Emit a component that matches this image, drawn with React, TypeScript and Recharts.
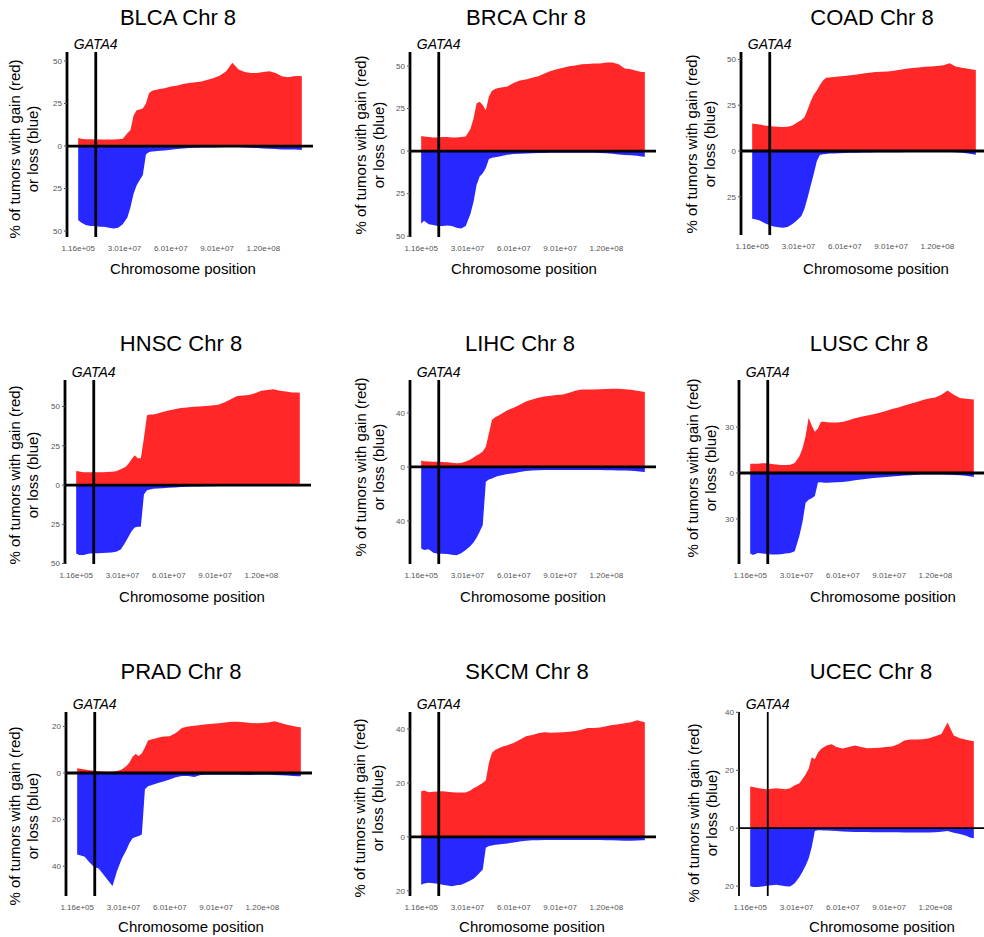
import React from 'react';
import { ComposedChart, Area, XAxis, YAxis, ReferenceLine } from 'recharts';

// positions along chromosome 8, in Mb, shared by every panel
const positions = [
  0.116, 2, 5, 8, 11, 14, 17, 20, 23, 26, 29, 32, 34, 36, 38, 40, 42, 44, 46, 48,
  50, 53, 56, 60, 64, 68, 72, 76, 80, 84, 88, 92, 96, 100, 104, 108, 112, 116, 120,
  124, 128, 132, 136, 140, 143, 145,
];

const xTicks = [0.116, 30.116, 60.116, 90.116, 120.116];
const xTickLabels = ['1.16e+05', '3.01e+07', '6.01e+07', '9.01e+07', '1.20e+08'];
const gata4Pos = 11.5;

// % of tumors with gain / loss at each position
const blcaGain = [4.7, 4.3, 4, 4, 3.8, 3.8, 3.8, 3.8, 3.9, 4, 4.3, 7.5, 9.5, 18, 21, 21.5, 22, 25, 31, 32.5, 33, 33.5, 34, 35, 35.5, 36.5, 37, 37.5, 38, 39, 40, 41.5, 44, 49, 45, 43.5, 43, 43, 43.5, 44, 43, 41, 40.5, 41, 41.2, 41];
const blcaLoss = [43.5, 45, 46.5, 47, 47, 47.5, 47.5, 48, 48.5, 48, 46, 42, 36, 28, 23, 20, 17, 5, 3.5, 3.2, 3, 2.8, 2.7, 2.2, 1.8, 1.4, 1.2, 1, 0.9, 0.9, 0.8, 0.7, 0.6, 0.4, 0.6, 0.8, 1, 1.2, 1.5, 1.6, 1.8, 2, 2, 2.1, 2.2, 2.3];

const brcaGain = [8.8, 8.5, 8.3, 8, 8, 8.2, 8.3, 8, 8, 8.2, 8.5, 13, 19, 28, 29, 27, 24, 32, 35.5, 36.5, 37, 37.5, 38, 40, 41.5, 42, 43, 44, 45.5, 47, 48, 49, 49.8, 50.3, 51, 51.2, 51.5, 51.5, 52, 52, 51, 48.5, 48, 47, 46.5, 46.5];
const brcaLoss = [42.5, 41, 43, 43.5, 44, 44, 43.7, 44, 45, 45.5, 44, 37, 30, 20, 15, 13, 10, 4.7, 4, 3.7, 3.3, 2.8, 2.2, 1.8, 1.6, 1.4, 1.3, 1.2, 1.1, 1, 1, 1, 1, 1, 1, 1, 1, 1.1, 1.3, 1.6, 2, 2.3, 2.5, 2.8, 3.2, 3.3];

const coadGain = [15, 14.8, 14.5, 14, 13.6, 13.4, 13.2, 13.1, 13.3, 13.8, 15.5, 17, 18.5, 22.5, 27, 30.8, 33, 36, 38.5, 40, 40.2, 40.5, 40.7, 41, 41.4, 41.8, 42.3, 42.8, 43.2, 43.3, 43.5, 43.8, 44.4, 45, 45.3, 45.6, 46, 46.2, 46.5, 46.8, 48, 46.2, 45.5, 45, 44.5, 44.3];
const coadLoss = [37, 37.3, 38, 39.3, 40.5, 41.3, 41.7, 42, 41.5, 40, 38, 35.5, 31.5, 25.5, 19, 12.5, 5.5, 2.2, 1.8, 1.6, 1.4, 1.3, 1.2, 1.1, 1, 0.9, 0.8, 0.8, 0.7, 0.7, 0.7, 0.7, 0.7, 0.6, 0.6, 0.6, 0.6, 0.6, 0.6, 0.6, 0.6, 0.7, 1, 1.4, 1.8, 2];

const hnscGain = [9, 8.6, 8.2, 8.1, 8.1, 8.1, 8.2, 8.3, 8.5, 8.8, 10, 11.5, 13.5, 16.5, 19, 17, 17, 30, 44.5, 45, 45, 45.5, 46.5, 47.5, 48.3, 49, 49.4, 49.8, 50, 50.3, 50.7, 51.2, 52.5, 54.5, 56.5, 57, 57.3, 58.5, 60, 60.5, 61, 60, 59.5, 59, 59, 58.8];
const hnscLoss = [43.6, 44.5, 44.5, 43.8, 43.5, 43.4, 43.3, 43.2, 43, 42.5, 41, 36.5, 33, 29.5, 27, 26.5, 26.5, 6, 3.4, 2.8, 2.4, 2.2, 2, 1.8, 1.5, 1.3, 1.1, 1, 0.9, 0.8, 0.7, 0.6, 0.5, 0.4, 0.4, 0.4, 0.4, 0.4, 0.4, 0.4, 0.4, 0.4, 0.4, 0.4, 0.4, 0.4];

const lihcGain = [4.7, 4.3, 4, 3.9, 3.8, 3.7, 3.5, 3.1, 2.8, 3, 4, 5.5, 7, 8.5, 9.8, 11.4, 15, 25, 35, 36.8, 38, 40, 42, 43.8, 46, 48.5, 50, 51.2, 52.2, 52.8, 53.2, 53.6, 55, 56.5, 57.3, 57.3, 57.3, 57.5, 57.8, 58, 58, 57.6, 57.2, 56.5, 55.8, 55.5];
const lihcLoss = [60.5, 61.5, 61, 63.5, 64.3, 64.3, 64.4, 65, 65.5, 64, 61.5, 58.5, 56, 52.5, 48, 43, 11, 9.3, 8.5, 7.5, 6.8, 6, 5.3, 4.6, 3.8, 3.1, 2.6, 2.4, 2.2, 2.2, 2.2, 2.2, 2.2, 2.2, 2.2, 2.2, 2.2, 2.3, 2.4, 2.5, 2.6, 2.7, 2.8, 3.2, 3.6, 3.7];

const luscGain = [6.1, 6.1, 6.1, 6.3, 6.4, 5.8, 5.5, 5.3, 5.2, 5.4, 6.5, 11, 16, 24, 36, 31, 27, 29, 33.5, 33.5, 33.2, 33, 33, 33.3, 34.5, 35.8, 36.7, 37.5, 38.3, 39.3, 40.5, 41.7, 42.8, 44, 45.2, 46.3, 47.6, 48.7, 49.3, 51, 53.8, 51, 49, 48.5, 48.2, 48];
const luscLoss = [52.6, 53.5, 52.3, 52.5, 52.8, 53.2, 53.2, 53, 52.6, 52.3, 51, 41, 32, 19.5, 17.5, 16.5, 15, 6.2, 6, 6.3, 6.4, 6.2, 6, 5.9, 5.4, 4.8, 4.2, 3.8, 3.3, 2.9, 2.6, 2.3, 2, 1.7, 1.4, 1.2, 1, 0.9, 0.9, 1, 1.1, 1.3, 1.5, 1.8, 2.3, 2.6];

const pradGain = [2.1, 1.8, 1.5, 1.2, 1, 0.8, 0.7, 0.6, 0.7, 0.9, 1.5, 3, 4.5, 7, 8.2, 7.3, 8.5, 11, 14, 14.4, 14.7, 15.3, 15.7, 15.8, 17.2, 19.3, 20, 20.3, 20.6, 20.9, 21.2, 21.4, 21.7, 22, 22, 21.8, 21.5, 21.4, 21.5, 21.7, 22.2, 21.5, 20.7, 20.2, 19.8, 19.6];
const pradLoss = [35, 35.3, 36, 38.3, 40.4, 41, 43.5, 46, 48.5, 42, 36.8, 33, 30, 28, 27.5, 27, 26.4, 7, 5.7, 5.2, 4.8, 4.2, 3.6, 2.8, 1.8, 1.3, 1.3, 1.7, 0.8, 0.7, 0.7, 0.7, 0.7, 0.7, 0.7, 0.8, 0.8, 0.7, 0.7, 0.7, 0.8, 1, 1.1, 1.3, 1.4, 1.4];

const skcmGain = [16.9, 17.2, 16.6, 16.7, 16.8, 16.9, 16.7, 16.6, 16.5, 16.5, 16.5, 17.2, 18, 18.6, 19.3, 20, 21, 27.5, 31.2, 32.2, 32.8, 33.5, 34, 34.8, 36, 37.3, 37.8, 38.4, 38.8, 38.6, 38.7, 38.8, 39, 39.3, 39.7, 40.4, 40.4, 40.6, 41, 41.5, 41.8, 42.1, 42.5, 43.2, 42.8, 42.5];
const skcmLoss = [17.7, 17.3, 17, 17.2, 17.4, 17.7, 18, 18.3, 17.9, 17.7, 17, 16.2, 15.5, 14.5, 13.3, 12.1, 4, 3.4, 3.2, 2.9, 2.8, 2.6, 2.4, 2.1, 1.7, 1.4, 1.2, 1.2, 1.1, 1.1, 1.1, 1.1, 1.1, 1.1, 1.1, 1.1, 1.1, 1.1, 1.2, 1.2, 1.3, 1.4, 1.4, 1.3, 1.2, 1.2];

const ucecGain = [14.4, 14.2, 13.9, 13.6, 13.4, 13.6, 13.8, 13.6, 13.4, 13.8, 14.8, 15.5, 17, 18.5, 20.5, 24.5, 23.8, 26, 27.3, 28, 28.6, 29, 28, 27.5, 28, 28.5, 28, 27.6, 27.7, 27.8, 28, 28.2, 29, 30.3, 30.6, 30.6, 30.7, 31, 31.7, 32.5, 36.5, 32, 31, 30.5, 30.2, 30];
const ucecLoss = [20, 20.3, 20.3, 20.1, 19.9, 19.7, 19.5, 19.8, 20, 20.1, 19, 16.8, 15, 13, 10.5, 6.5, 1, 0.7, 0.7, 0.8, 0.8, 0.9, 1, 1.1, 1.2, 1.3, 1.3, 1.3, 1.4, 1.4, 1.4, 1.4, 1.4, 1.5, 1.5, 1.5, 1.5, 1.5, 1.4, 1.2, 1, 1.6, 2, 2.6, 3.3, 3.5];

type PanelDef = {
  name: string;
  gain: number[];
  loss: number[];
  yDomain: [number, number];
  yTicks: number[];
  axisX: number;
  top: number;
  bottom: number;
  title: [number, number];
  yLab: [number, number];
  xLab: [number, number];
  lw: number;
};

const panels: PanelDef[] = [
  { name: 'BLCA', gain: blcaGain, loss: blcaLoss, yDomain: [-53.5, 55.3], yTicks: [-50, -25, 0, 25, 50], axisX: 67, top: 52, bottom: 237, title: [178, 18], yLab: [24, 149], xLab: [183, 268], lw: 2.8 },
  { name: 'BRCA', gain: brcaGain, loss: brcaLoss, yDomain: [-50.5, 58.2], yTicks: [-50, -25, 0, 25, 50], axisX: 410, top: 52, bottom: 237, title: [526, 18], yLab: [370, 145], xLab: [524, 268], lw: 2.8 },
  { name: 'COAD', gain: coadGain, loss: coadLoss, yDomain: [-45.9, 54.1], yTicks: [-25, 0, 25, 50], axisX: 741, top: 52, bottom: 235, title: [872, 18], yLab: [701, 144], xLab: [876, 268], lw: 2.8 },
  { name: 'HNSC', gain: hnscGain, loss: hnscLoss, yDomain: [-50.3, 66.9], yTicks: [-50, -25, 0, 25, 50], axisX: 65, top: 380, bottom: 564, title: [181, 344], yLab: [24, 475], xLab: [192, 596], lw: 2.8 },
  { name: 'LIHC', gain: lihcGain, loss: lihcLoss, yDomain: [-71.9, 64.4], yTicks: [-40, 0, 40], axisX: 410, top: 380, bottom: 564, title: [520, 344], yLab: [370, 467], xLab: [533, 596], lw: 2.8 },
  { name: 'LUSC', gain: luscGain, loss: luscLoss, yDomain: [-59.4, 60.7], yTicks: [-30, 0, 30], axisX: 739, top: 380, bottom: 564, title: [869, 344], yLab: [702, 468], xLab: [883, 596], lw: 2.8 },
  { name: 'PRAD', gain: pradGain, loss: pradLoss, yDomain: [-52.8, 26.2], yTicks: [-40, -20, 0, 20], axisX: 66, top: 712, bottom: 896, title: [181, 672], yLab: [24, 816], xLab: [191, 926], lw: 2.8 },
  { name: 'SKCM', gain: skcmGain, loss: skcmLoss, yDomain: [-21.9, 46.3], yTicks: [-20, 0, 20, 40], axisX: 410, top: 712, bottom: 896, title: [527, 672], yLab: [369, 808], xLab: [532, 926], lw: 2.8 },
  { name: 'UCEC', gain: ucecGain, loss: ucecLoss, yDomain: [-23.4, 40.1], yTicks: [-20, 0, 20, 40], axisX: 739, top: 712, bottom: 896, title: [871, 672], yLab: [703, 813], xLab: [882, 926], lw: 1.8 },
];

const PLOT_W = 246;
const Y_W = 40;
const M_TOP = 25;
const X_H = 22;
const xDomain: [number, number] = [-7.13, 152.24];

const centered = (x: number, y: number): React.CSSProperties => ({
  position: 'absolute',
  left: x,
  top: y,
  transform: 'translate(-50%, -50%)',
  whiteSpace: 'nowrap',
});

function Panel({ p }: { p: PanelDef }) {
  const data = positions.map((x, i) => ({ x, gain: p.gain[i], loss: -p.loss[i] }));
  const plotH = p.bottom - p.top;
  return (
    <>
      <div style={{ position: 'absolute', left: p.axisX - Y_W, top: p.top - M_TOP }}>
        <ComposedChart
          width={Y_W + PLOT_W + 4}
          height={M_TOP + plotH + X_H}
          data={data}
          margin={{ top: M_TOP, right: 4, bottom: 0, left: 0 }}
        >
          <XAxis
            dataKey="x"
            type="number"
            domain={xDomain}
            ticks={xTicks}
            interval={0}
            allowDataOverflow
            axisLine={false}
            tickLine={false}
            tickSize={6}
            tickMargin={2}
            height={X_H}
            tick={{ fontSize: 8, fill: '#555' }}
            tickFormatter={v => xTickLabels[xTicks.indexOf(v)] ?? ''}
          />
          <YAxis
            type="number"
            domain={p.yDomain}
            ticks={p.yTicks}
            interval={0}
            allowDataOverflow
            width={Y_W}
            axisLine={{ stroke: '#000', strokeWidth: p.lw }}
            tickLine={{ stroke: '#555' }}
            tickSize={3}
            tickMargin={2}
            tick={{ fontSize: 8, fill: '#555' }}
            tickFormatter={v => String(Math.abs(v))}
          />
          <Area dataKey="gain" type="linear" baseValue={0} fill="#ff2727" fillOpacity={1} stroke="none" isAnimationActive={false} />
          <Area dataKey="loss" type="linear" baseValue={0} fill="#2727ff" fillOpacity={1} stroke="none" isAnimationActive={false} />
          <ReferenceLine y={0} stroke="#000" strokeWidth={p.lw} />
          <ReferenceLine
            x={gata4Pos}
            stroke="#000"
            strokeWidth={p.lw}
            label={{ value: 'GATA4', position: 'top', offset: 3, fontSize: 14, fontStyle: 'italic', fill: '#000' }}
          />
        </ComposedChart>
      </div>
      <div style={{ ...centered(p.title[0], p.title[1]), fontSize: 22 }}>{p.name} Chr 8</div>
      <div style={{ ...centered(p.xLab[0], p.xLab[1]), fontSize: 15 }}>Chromosome position</div>
      <div
        style={{
          ...centered(p.yLab[0], p.yLab[1]),
          transform: 'translate(-50%, -50%) rotate(-90deg)',
          fontSize: 15,
          lineHeight: '18px',
          textAlign: 'center',
        }}
      >
        % of tumors with gain (red)
        <br />
        or loss (blue)
      </div>
    </>
  );
}

export default function App() {
  return (
    <div
      style={{
        position: 'absolute',
        left: 0,
        top: 0,
        width: 984,
        height: 937,
        overflow: 'hidden',
        background: '#fff',
        fontFamily: '"Liberation Sans", Arial, Helvetica, sans-serif',
        color: '#000',
      }}
    >
      {panels.map(p => (
        <Panel key={p.name} p={p} />
      ))}
    </div>
  );
}
